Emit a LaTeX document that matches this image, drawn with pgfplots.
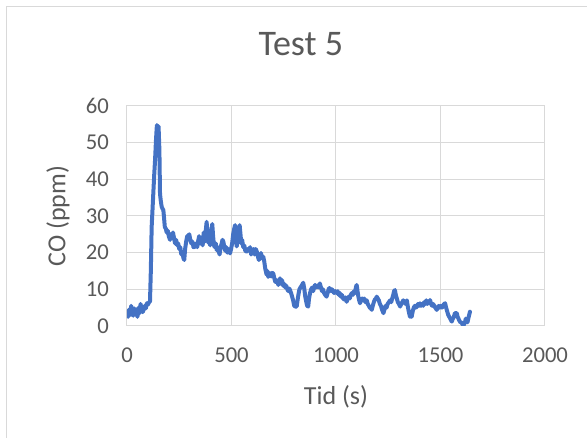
\documentclass[border=0pt]{standalone}
\usepackage{fontspec}
\setmainfont{Carlito}
\usepackage{pgfplots}
\pgfplotsset{compat=1.18}
\definecolor{txt}{HTML}{595959}
\definecolor{grd}{HTML}{D9D9D9}
\definecolor{ser}{HTML}{4472C4}
\begin{document}
\begin{tikzpicture}[x=0.75pt,y=0.75pt]
\useasboundingbox (0,0) rectangle (587,438);
\draw[grd, line width=0.75pt] (6,0) -- (6,431) -- (587,431);
\begin{axis}[
  at={(95.25pt,84pt)}, anchor=south west,
  scale only axis, width=313.5pt, height=165pt,
  xmin=0, xmax=2000, ymin=0, ymax=60,
  xtick={0,500,1000,1500,2000},
  ytick={0,10,20,30,40,50,60},
  grid=major,
  major grid style={grd, line width=0.75pt},
  axis line style={grd, line width=0.75pt},
  tick style={draw=none},
  /pgf/number format/assume math mode=true,
  /pgf/number format/1000 sep={},
  ticklabel style={font=\fontsize{17}{20}\selectfont, text=txt},
  xticklabel style={yshift=-13pt},
  yticklabel style={xshift=-10pt},
  xlabel={Tid (s)}, ylabel={CO (ppm)},
  label style={font=\fontsize{19.5}{23}\selectfont, text=txt},
  xlabel style={at={(axis description cs:0.5,-0.323)}, anchor=center},
  ylabel style={at={(axis description cs:-0.165,0.5)}, anchor=center},
  title={Test 5},
  title style={font=\fontsize{27}{31}\selectfont, text=txt, at={(axis description cs:0.416,1.245)}, anchor=center},
]
\addplot[ser, line width=3pt, line join=round, line cap=round] coordinates {
(0,3) (5,2.5) (10,4.5) (15,3) (20,5.5) (25,3.5) (30,2.8) (35,4.8) (40,3.2) (45,4) (50,2.5) (55,5) (60,3.5) (65,6) (70,4.5) (75,3.8) (80,4.5) (85,5.5) (90,4.8) (95,6.2) (100,5.8) (105,6.5) (110,6.6)
(114,15) (118,27) (124,34) (130,41) (134,45) (139,51) (143,54.8) (147,53) (151,54.5) (155,48) (158,36) (162,34) (166,32.5) (170,32) (174,31.6) (178,29) (181,27) (186,26.5) (190,25.5) (195,26) (200,24.5) (206,23.5) (210,25) (215,24.5) (220,25.5) (225,24) (230,22.5) (235,23.5) (240,22) (245,22.5) (250,21) (255,21.5) (260,19.5) (265,20) (270,18.5) (274,18) (278,21) (283,23) (288,24.5) (293,24.6) (298,25) (303,23.5) (308,22.5) (313,23) (318,21.5) (325,21.6) (330,22.5) (336,21.5) (340,23) (345,24.5) (350,22.5) (357,23.9) (362,22) (367,25.5) (372,23) (377,26) (381,28.4) (385,25) (389,22.7) (394,24) (398,22) (403,26) (408,27.8) (412,24.5) (416,22) (420,21.5) (425,22.5) (429,20.7) (434,21.5) (438,20.5) (443,19.5) (448,21.5) (453,22.5) (457,23.5) (461,23) (466,21.5) (470,20.5) (475,21.5) (480,20) (485,21) (489,20.5) (493,19.8) (498,21) (503,22.5) (508,25) (513,26.5) (517,27.5) (521,24) (525,21.7) (530,24) (535,26) (539,27.5) (543,25) (547,22.5) (551,23.5) (556,21.5) (561,22) (566,20.5) (573,20.3) (578,21) (584,20.5) (589,21.5) (594,19.5) (600,20.5) (605,21) (610,19.5) (616,21) (621,20.3) (626,19) (631,18) (636,18.9) (641,19.9) (646,18.5) (652,18.9) (657,17.5) (662,15.5) (668,14) (672,15) (676,13.4) (680,14) (684,14.4) (690,13.5) (695,14.5) (700,14.3) (705,13) (710,12) (715,12.5) (720,12) (724,11.2) (728,12) (732,13) (737,11.5) (742,12.5) (747,11) (752,11.5) (757,10.5) (762,11) (767,10) (772,9.5) (777,10.2) (780,9.8) (785,9) (790,8) (795,7) (800,5.5) (806,5.3) (812,5.3) (816,7) (820,8.5) (825,10) (830,10.5) (836,11) (843,11.8) (848,10.3) (853,8) (858,6.5) (862,5.5) (867,5.3) (871,7.5) (876,9) (881,10) (886,10.5) (891,9.5) (895,10.5) (900,11.2) (905,10.5) (910,11) (915,10.5) (920,11.2) (923,11.6) (928,10.5) (933,9.5) (938,10) (943,9) (948,8.5) (955,8) (960,9) (966,10.3) (971,10.3) (976,9.5) (981,10) (986,9.5) (991,9) (997,9.5) (1003,9) (1008,9.5) (1013,8.5) (1018,9) (1023,8) (1028,8.5) (1034,7.5) (1040,7.2) (1045,7.8) (1051,6.6) (1056,7.5) (1061,8) (1066,7.5) (1071,8.5) (1076,9) (1081,8.5) (1086,9.5) (1091,9) (1095,10.5) (1099,11.2) (1103,9.5) (1107,8) (1111,7) (1115,6.2) (1120,7) (1125,7.5) (1130,7) (1135,7.5) (1141,6.5) (1147,7) (1152,6) (1157,5.5) (1162,5) (1167,4.8) (1171,4.4) (1176,5.5) (1181,6.5) (1186,7.2) (1191,7.5) (1195,8) (1200,7.5) (1205,7) (1210,6) (1215,5.5) (1220,4.5) (1227,3.5) (1232,4.5) (1237,5.5) (1242,5) (1247,6) (1253,6.5) (1259,7) (1264,6.5) (1269,7.5) (1274,8.5) (1278,9.5) (1282,9.8) (1286,8.5) (1291,7.5) (1296,6.5) (1301,6) (1307,5.3) (1312,6) (1317,6.5) (1322,7) (1327,6.5) (1333,6) (1339,7) (1343,5.5) (1348,4) (1354,2.5) (1358,3.5) (1362,2.5) (1367,4) (1372,5) (1377,5.5) (1382,5) (1387,5.3) (1392,6) (1397,5.5) (1402,6.2) (1407,5.5) (1412,6) (1417,5.5) (1422,6.5) (1427,6) (1432,7) (1437,6) (1441,6.5) (1446,6.2) (1450,7.1) (1455,6) (1460,5.5) (1465,6) (1470,5.5) (1475,5) (1482,4.4) (1487,5) (1492,5.5) (1497,5) (1502,5.5) (1507,5) (1512,5.5) (1517,6) (1522,6.2) (1527,5) (1532,4) (1537,3) (1542,2.5) (1547,2) (1551,1.5) (1554,1.2) (1559,2) (1564,2.5) (1569,3.5) (1573,3.5) (1578,3.5) (1582,2.5) (1586,2) (1590,1.5) (1595,1) (1600,1) (1605,0.5) (1609,0) (1613,0.5) (1617,1) (1621,2) (1625,1.5) (1629,1) (1633,2) (1637,3) (1641,3.9)
};
\end{axis}
\end{tikzpicture}
\end{document}
